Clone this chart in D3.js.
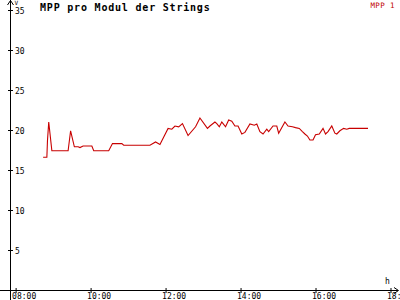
<!DOCTYPE html>
<html><head><meta charset="utf-8">
<script src="https://cdn.jsdelivr.net/npm/d3@7"></script>
<style>
html,body{margin:0;padding:0;background:#fff;}
svg{display:block;}
text{font-family:"DejaVu Sans Mono","Liberation Mono",monospace;}
</style></head>
<body>
<script>
const times = ["08:44","08:50","08:51","08:53","08:58","09:24","09:28","09:34","09:40","09:43","09:48","10:02","10:05","10:29","10:35","10:50","10:53","11:28","11:35","11:44","11:51","12:04","12:10","12:15","12:21","12:27","12:36","12:48","12:55","13:07","13:11","13:19","13:22","13:26","13:30","13:32","13:36","13:41","13:46","13:51","13:56","14:02","14:07","14:15","14:22","14:26","14:31","14:36","14:42","14:45","14:52","14:58","15:01","15:11","15:16","15:23","15:28","15:34","15:39","15:43","15:47","15:51","15:56","16:00","16:06","16:12","16:16","16:20","16:26","16:31","16:34","16:39","16:45","16:50","16:54","17:24"];
const mpp1 = [16.6,16.6,18.7,21.0,17.4,17.4,19.9,17.9,17.9,17.8,18.0,18.0,17.4,17.4,18.3,18.3,18.1,18.1,18.1,18.5,18.2,20.2,20.1,20.5,20.4,20.8,19.3,20.4,21.5,20.2,20.5,21.0,20.8,20.4,21.0,20.8,20.4,21.25,21.1,20.5,20.5,19.5,19.7,20.75,20.6,20.75,19.8,19.5,20.1,19.8,20.5,20.5,19.6,21.0,20.5,20.4,20.3,20.2,19.8,19.5,19.25,18.75,18.75,19.4,19.5,20.2,19.5,19.8,20.5,19.6,19.5,19.9,20.2,20.1,20.2,20.2];
const xTickLabels = ["08:00","10:00","12:00","14:00","16:00","18:00"];
const yTicks = [5,10,15,20,25,30,35];
const title = "MPP pro Modul der Strings";
const seriesName = "MPP 1";
const yUnit = "V";
const xUnit = "h";

const W = 400, H = 300;
const toMin = s => { const [h,m] = s.split(":").map(Number); return h*60+m; };
const svg = d3.select("body").append("svg").attr("width",W).attr("height",H);

const x = d3.scaleLinear().domain([toMin("07:51"), toMin("18:12")]).range([10, 398]);
const y = d3.scaleLinear().domain([0, 35]).range([290, 10]);

// axes lines
svg.append("line").attr("x1",10.5).attr("x2",10.5).attr("y1",0).attr("y2",300).attr("stroke","#000");
svg.append("line").attr("x1",0).attr("x2",398).attr("y1",290.5).attr("y2",290.5).attr("stroke","#000");
// arrows
svg.append("path").attr("d","M7.5,5 L10.5,0.5 L13.5,5").attr("fill","none").attr("stroke","#000");
svg.append("path").attr("d","M394,287.5 L398.5,290.5 L394,293.5").attr("fill","none").attr("stroke","#000");

// y axis
const ya = svg.append("g").attr("transform","translate(10.5,0)")
  .call(d3.axisRight(y).tickValues(yTicks).tickSize(3).tickPadding(2).tickFormat(d3.format("d")));
ya.select(".domain").remove();
ya.selectAll(".tick line").attr("x1",-2.5).attr("x2",2.5);
ya.selectAll(".tick text").attr("font-family","DejaVu Sans Mono").attr("font-size",8).attr("fill","#000").attr("x",4.5)
  .attr("dy","0.4em");

// x axis
const xa = svg.append("g").attr("transform","translate(0,290.5)")
  .call(d3.axisBottom(x).tickValues(xTickLabels.map(toMin)).tickSize(3).tickFormat((d,i)=>xTickLabels[i]));
xa.select(".domain").remove();
xa.selectAll(".tick line").attr("y1",-2.5).attr("y2",2.5);
xa.selectAll(".tick text").attr("font-family","DejaVu Sans Mono").attr("font-size",8).attr("fill","#000")
  .attr("text-anchor","start").attr("x",-4).attr("y",0).attr("dy",0).attr("dominant-baseline","auto")
  .attr("transform","translate(0,8.5)");

// unit labels
svg.append("text").attr("x",14.5).attr("y",5).attr("font-size",6).text(yUnit);
svg.append("text").attr("x",385).attr("y",284).attr("font-size",8).text(xUnit);

// title
svg.append("text").attr("x",40).attr("y",10.5).attr("font-size",10).attr("font-weight","bold")
  .attr("letter-spacing",0.8).text(title);
// legend
svg.append("text").attr("x",395).attr("y",7.5).attr("font-size",7.5).attr("text-anchor","end")
  .attr("fill","#c00000").attr("letter-spacing",0.4).text(seriesName);

// line
const line = d3.line().x((d,i)=>x(toMin(times[i]))).y(d=>y(d));
svg.append("path").datum(mpp1).attr("d",line).attr("fill","none").attr("stroke","#c80000").attr("stroke-width",1.1);
</script>
</body></html>
